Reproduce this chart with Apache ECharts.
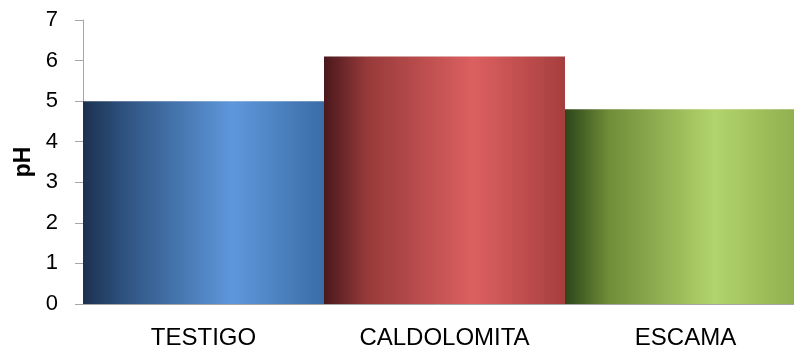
<!DOCTYPE html>
<html>
<head>
<meta charset="utf-8">
<script src="https://cdn.jsdelivr.net/npm/echarts@6/dist/echarts.min.js"></script>
<style>
  html, body { margin: 0; padding: 0; background: #ffffff; }
  #chart { width: 794px; height: 347px; }
</style>
</head>
<body>
<div id="chart"></div>
<script>
// datos
const categories = ['TESTIGO', 'CALDOLOMITA', 'ESCAMA']
const phValues = [5.0, 6.1, 4.8]
const yTicks = [0, 1, 2, 3, 4, 5, 6, 7]

// degradados horizontales de cada barra (oscuro -> claro -> medio)
const barShades = [
  ['#1c3150', '#2f5482', '#5e98dc', '#3a6ca6'],
  ['#4a181c', '#983a3a', '#dc6060', '#a63e3e'],
  ['#2c4619', '#6f8c38', '#b2d46c', '#8caa4a'],
]

const makeGradient = (c) => new echarts.graphic.LinearGradient(0, 0, 1, 0, [
  { offset: 0, color: c[0] },
  { offset: 0.18, color: c[1] },
  { offset: 0.62, color: c[2] },
  { offset: 1, color: c[3] },
])

const chart = echarts.init(document.getElementById('chart'))
chart.setOption({
  animation: false,
  grid: {
    left: 83,
    top: 20,
    width: 723, // la última barra queda recortada por el borde derecho
    height: 284,
    outerBoundsMode: 'none',
  },
  xAxis: {
    type: 'category',
    data: categories,
    axisLine: { show: true, lineStyle: { color: '#a6a6a6', width: 1 } },
    axisTick: { show: false },
    axisLabel: {
      color: '#000000',
      fontFamily: 'Liberation Sans',
      fontSize: 24,
      margin: 22,
    },
  },
  yAxis: {
    type: 'value',
    min: yTicks[0],
    max: yTicks[yTicks.length - 1],
    interval: 1,
    name: 'pH',
    nameLocation: 'middle',
    nameRotate: 90,
    nameGap: 48,
    nameTextStyle: {
      color: '#000000',
      fontFamily: 'Liberation Sans',
      fontWeight: 'bold',
      fontSize: 23,
    },
    axisLine: { show: true, lineStyle: { color: '#a6a6a6', width: 1 } },
    axisTick: { show: true, length: 8, inside: false, lineStyle: { color: '#a6a6a6' } },
    splitLine: { show: false },
    axisLabel: {
      color: '#000000',
      fontFamily: 'Liberation Sans',
      fontSize: 22,
      margin: 25,
    },
  },
  series: [
    {
      type: 'bar',
      barCategoryGap: '0%',
      data: phValues.map((v, i) => ({
        value: v,
        itemStyle: { color: makeGradient(barShades[i]) },
      })),
    },
  ],
})
</script>
</body>
</html>
